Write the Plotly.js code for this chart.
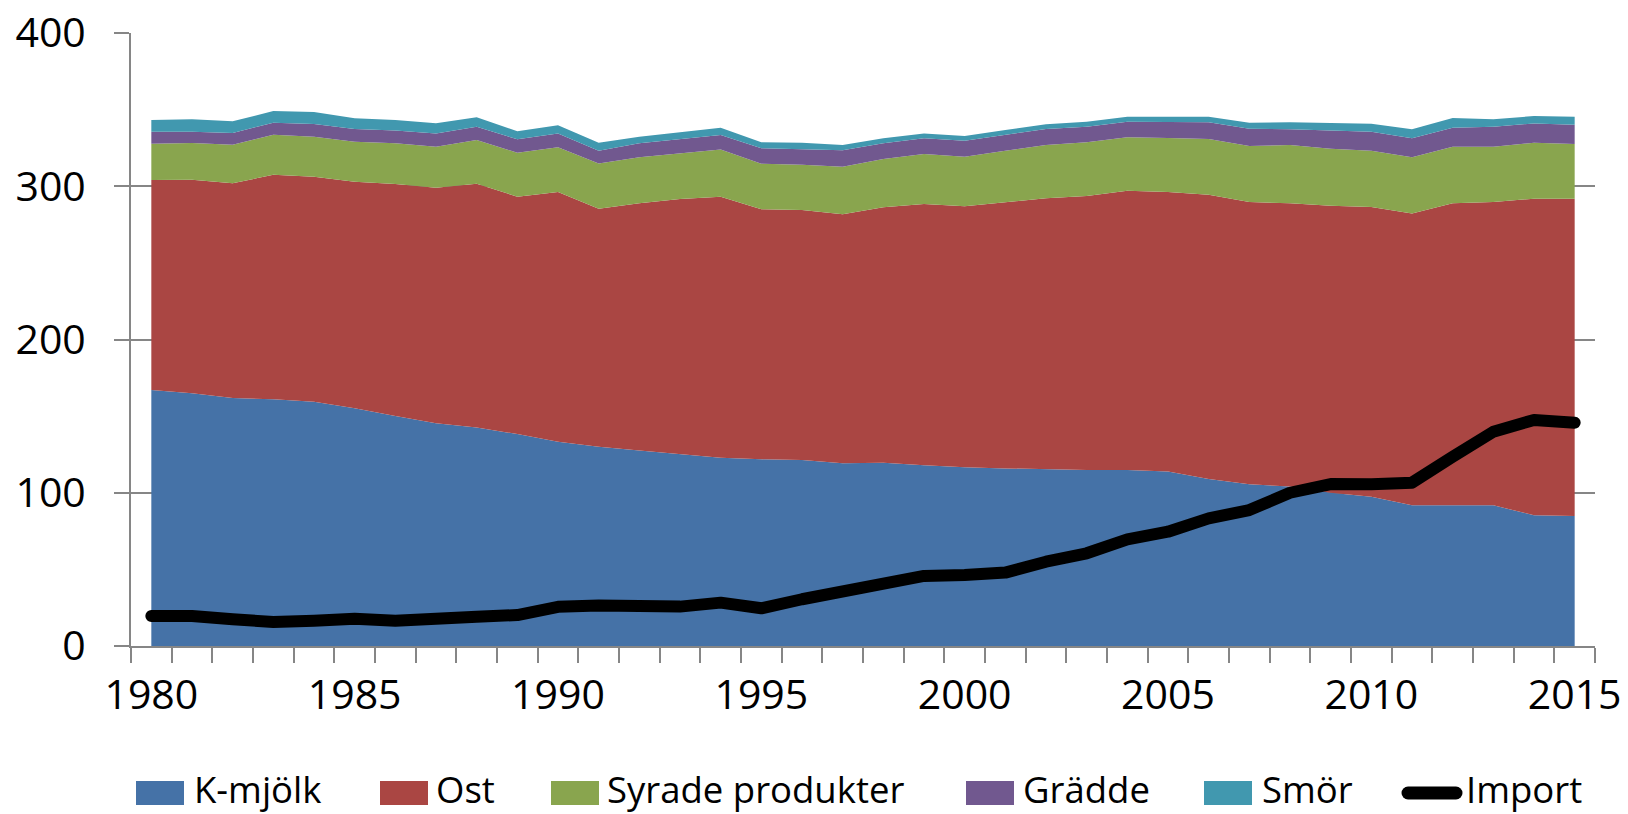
<!DOCTYPE html>
<html>
<head>
<meta charset="utf-8">
<script src="https://cdn.plot.ly/plotly-3.0.1.min.js"></script>
<style>
  html, body { margin: 0; padding: 0; background: #fff; }
  #chart { width: 1628px; height: 814px; }
  .scatterlayer .js-line { stroke-linejoin: round; stroke-linecap: round; }
  .shapelayer path { stroke-linecap: round; }
</style>
</head>
<body>
<div id="chart"></div>
<script>
const years = [1980,1981,1982,1983,1984,1985,1986,1987,1988,1989,1990,1991,1992,1993,1994,1995,1996,1997,
               1998,1999,2000,2001,2002,2003,2004,2005,2006,2007,2008,2009,2010,2011,2012,2013,2014,2015];

const kmjolk = [167.0,164.9,161.8,161.0,159.4,155.1,150.1,145.3,142.5,138.3,133.3,130.0,127.5,125.3,122.9,121.8,121.4,119.2,
                119.6,117.9,116.6,115.9,115.3,114.8,114.8,113.8,109.0,105.5,104.0,100.0,97.4,91.8,91.8,91.8,85.3,84.8];
const ost    = [137.1,139.4,140.1,146.5,146.8,147.9,151.4,153.8,159.2,154.9,163.0,155.3,161.4,166.4,170.3,163.2,163.1,162.5,
                166.7,170.5,170.3,173.4,176.8,178.8,182.3,182.5,185.5,184.2,184.9,187.3,189.1,190.5,197.1,197.9,206.6,207.1];
const syrade = [23.7,23.9,25.2,26.1,26.1,26.1,26.5,26.7,28.5,28.7,29.1,29.5,30.0,29.8,30.7,29.7,29.6,31.1,
                31.5,32.6,32.4,33.9,34.8,35.1,34.8,35.2,36.3,36.6,38.0,37.2,36.7,36.6,36.9,36.1,36.5,35.7];
const gradde = [7.8,7.4,7.6,7.9,8.3,8.3,8.3,8.7,8.7,8.7,9.1,8.4,9.1,9.1,9.5,10.1,10.2,10.7,
                10.2,10.3,10.4,10.2,10.5,10.2,10.2,10.4,10.9,11.3,10.3,11.8,12.4,12.4,12.4,13.1,12.6,12.6];
const smor   = [7.6,8.1,7.7,7.6,7.9,6.9,6.9,6.6,6.1,5.3,5.3,5.2,4.3,4.6,4.8,3.9,4.1,3.4,
                3.3,3.2,3.1,3.3,3.0,3.2,3.3,3.5,3.7,3.9,4.5,5.0,5.2,5.9,6.3,4.8,4.8,5.2];
const importSeries = [19.6,19.6,17.4,15.7,16.5,17.8,16.5,18.5,19.1,20.2,25.6,26.4,25.2,25.7,28.3,24.6,30.5,36.1,
                41.3,45.7,46.3,47.9,55.0,60.5,69.6,74.6,83.3,88.7,100.0,105.7,105.5,106.6,123.5,139.8,147.5,145.7];

const areaNames = ['K-mjölk','Ost','Syrade produkter','Grädde','Smör'];
const lineName = 'Import';
const xTickVals = [1980,1985,1990,1995,2000,2005,2010,2015];
const xTickText = ['1980','1985','1990','1995','2000','2005','2010','2015'];
const yTickVals = [0,100,200,300,400];

const colors = ['#4572A7','#AA4643','#89A54E','#71588F','#4198AF'];
const areaData = [kmjolk, ost, syrade, gradde, smor];

const traces = areaData.map((vals, i) => ({
  type: 'scatter', mode: 'lines', x: years, y: vals, name: areaNames[i],
  stackgroup: 'one', fillcolor: colors[i], line: {width: 0, color: colors[i]},
  showlegend: false, hoverinfo: 'x+y+name'
}));
traces.push({
  type: 'scatter', mode: 'lines', x: years, y: importSeries, name: lineName,
  line: {color: '#000000', width: 12}, showlegend: false
});

// plot area geometry (pixels)
const W = 1628, H = 814, ML = 131, MR = 33, MT = 33, MB = 168;
const PW = W - ML - MR, PH = H - MT - MB;
const px = p => (p - ML) / PW;
const py = p => (MT + PH - p) / PH;

// manual legend (layout only)
const legSquareX = [136, 380, 551, 966, 1204];
const legTextX = [193, 435, 606, 1022, 1261];
const legY = 793;
const shapes = [];
const annotations = [];
const legFont = {family: 'Open Sans, sans-serif', size: 36.5, color: '#000'};
areaNames.forEach((n, i) => {
  shapes.push({type: 'rect', xref: 'paper', yref: 'paper',
    x0: px(legSquareX[i]), x1: px(legSquareX[i] + 48), y0: py(legY + 12), y1: py(legY - 12),
    fillcolor: colors[i], line: {width: 0}});
  annotations.push({xref: 'paper', yref: 'paper', x: px(legTextX[i]), y: py(legY - 4),
    xanchor: 'left', yanchor: 'middle', text: n, showarrow: false, font: legFont, borderpad: 0});
});
shapes.push({type: 'line', xref: 'paper', yref: 'paper',
  x0: px(1408), x1: px(1456), y0: py(legY), y1: py(legY), line: {color: '#000', width: 13}});
annotations.push({xref: 'paper', yref: 'paper', x: px(1465), y: py(legY - 4),
  xanchor: 'left', yanchor: 'middle', text: lineName, showarrow: false, font: legFont, borderpad: 0});

const axisGray = '#868686';
const tickFont = {family: 'Open Sans, sans-serif', size: 41, color: '#000'};

const layout = {
  width: W, height: H,
  margin: {l: ML, r: MR, t: MT, b: MB, pad: 0},
  paper_bgcolor: '#fff', plot_bgcolor: '#fff',
  showlegend: false,
  font: {family: 'Open Sans, sans-serif', color: '#000'},
  xaxis: {
    range: [1979.5, 2015.5], fixedrange: true,
    tickmode: 'array', tickvals: xTickVals, ticktext: xTickText,
    ticks: '', showgrid: false, zeroline: false,
    showline: true, linecolor: axisGray, linewidth: 2,
    tickfont: tickFont, ticklabelstandoff: 12,
    minor: {tick0: 1979.5, dtick: 1, ticks: 'outside', ticklen: 15, tickwidth: 2, tickcolor: axisGray, showgrid: false}
  },
  yaxis: {
    range: [0, 400], fixedrange: true,
    tickmode: 'array', tickvals: yTickVals,
    ticks: 'outside', ticklen: 15, tickwidth: 2, tickcolor: axisGray,
    showline: true, linecolor: axisGray, linewidth: 2,
    showgrid: true, gridcolor: axisGray, gridwidth: 2, zeroline: false,
    tickfont: tickFont, ticklabelstandoff: 20
  },
  shapes: shapes,
  annotations: annotations
};

Plotly.newPlot('chart', traces, layout, {displayModeBar: false, staticPlot: true});
</script>
</body>
</html>
